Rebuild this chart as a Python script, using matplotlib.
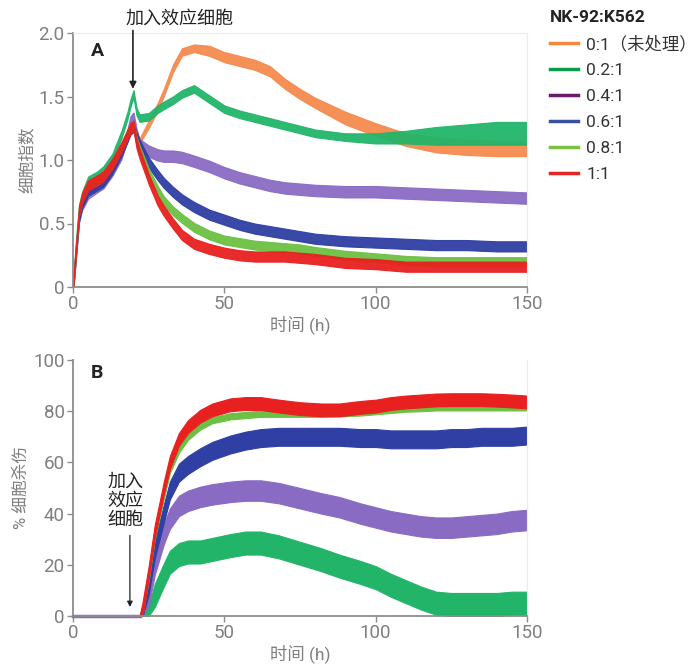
import numpy as np
import matplotlib.pyplot as plt
from matplotlib.lines import Line2D

plt.rcParams['font.family'] = ['Roboto', 'Noto Sans CJK SC', 'DejaVu Sans']

labels = ["0:1（未处理）", "0.2:1", "0.4:1", "0.6:1", "0.8:1", "1:1"]
legend_colors = ["#f7883b", "#0a9c4b", "#6a1b6a", "#3a4fa0", "#7dc142", "#e32626"]
band_colors = ["#f58a4d", "#22b56a", "#8a6bc4", "#2f3fa3", "#6cc043", "#e8201f"]

# Panel A: cell index
tA = [0, 1, 2, 3, 5, 8, 10, 13, 16, 18, 19, 20, 21, 22, 25, 28, 30, 33, 36, 40, 45, 50,
      55, 60, 65, 70, 75, 80, 90, 100, 110, 120, 130, 140, 150]
a_untreated = [0, 0.3, 0.58, 0.68, 0.78, 0.82, 0.85, 0.95, 1.08, 1.2, 1.27, 1.3, 1.18, 1.15,
               1.28, 1.42, 1.53, 1.72, 1.85, 1.88, 1.86, 1.81, 1.78, 1.75, 1.70, 1.60, 1.52,
               1.45, 1.33, 1.24, 1.16, 1.12, 1.10, 1.09, 1.09]
a_02 = [0, 0.35, 0.62, 0.72, 0.84, 0.88, 0.92, 1.02, 1.2, 1.35, 1.45, 1.52, 1.38, 1.33,
        1.34, 1.40, 1.43, 1.47, 1.52, 1.56, 1.48, 1.40, 1.36, 1.33, 1.30, 1.27, 1.24,
        1.21, 1.18, 1.17, 1.18, 1.19, 1.20, 1.21, 1.21]
a_04 = [0, 0.28, 0.55, 0.65, 0.74, 0.79, 0.82, 0.92, 1.05, 1.2, 1.3, 1.33, 1.2, 1.12,
        1.07, 1.04, 1.03, 1.03, 1.02, 0.99, 0.95, 0.90, 0.86, 0.83, 0.80, 0.78, 0.77,
        0.76, 0.75, 0.75, 0.74, 0.73, 0.72, 0.71, 0.70]
a_06 = [0, 0.28, 0.56, 0.66, 0.76, 0.8, 0.83, 0.93, 1.07, 1.18, 1.24, 1.26, 1.18, 1.12,
        0.98, 0.88, 0.82, 0.75, 0.69, 0.63, 0.57, 0.53, 0.49, 0.46, 0.44, 0.42, 0.40,
        0.38, 0.36, 0.35, 0.34, 0.33, 0.33, 0.32, 0.32]
a_08 = [0, 0.3, 0.6, 0.7, 0.8, 0.84, 0.87, 0.97, 1.1, 1.2, 1.25, 1.27, 1.15, 1.08,
        0.9, 0.76, 0.68, 0.6, 0.54, 0.47, 0.41, 0.37, 0.35, 0.33, 0.32, 0.31, 0.30,
        0.28, 0.25, 0.23, 0.21, 0.20, 0.20, 0.20, 0.20]
a_10 = [0, 0.3, 0.6, 0.7, 0.8, 0.84, 0.87, 0.97, 1.1, 1.2, 1.25, 1.27, 1.13, 1.05,
        0.85, 0.68, 0.6, 0.5, 0.41, 0.34, 0.30, 0.27, 0.25, 0.24, 0.24, 0.24, 0.23,
        0.22, 0.19, 0.18, 0.16, 0.16, 0.16, 0.16, 0.16]
# half band widths (SD)
a_sd_untreated = [0.02] * 14 + [0.03] * 6 + [0.04] * 8 + [0.05, 0.05, 0.05, 0.06, 0.06, 0.06, 0.06]
a_sd_02 = [0.03] * 28 + [0.03, 0.04, 0.05, 0.07, 0.08, 0.09, 0.09]
a_sd = [0.045, 0.04, 0.035, 0.04, 0.03]

# Panel B: % cytolysis
tB = [0, 20, 22, 23, 25, 27, 30, 32, 35, 38, 42, 46, 52, 57, 62, 68, 75, 82, 88, 95, 100,
      105, 110, 115, 120, 125, 130, 135, 140, 145, 150]
b_02 = [0, 0, 0, 0, 2, 8, 16, 21, 24, 25, 25, 26, 27.5, 28.5, 28.5, 27, 24.5, 22, 19.5,
        17, 15, 12, 9.5, 7, 5, 4.5, 4.5, 4.5, 4.5, 5, 5]
b_04 = [0, 0, 0, 1, 8, 20, 32, 38, 43, 45, 46.5, 47.5, 48.5, 49, 49, 48, 46, 44, 42.5,
        40, 38.5, 37, 36, 35, 34.5, 34.5, 35, 35.5, 36, 37, 37.5]
b_06 = [0, 0, 0, 2, 12, 26, 40, 49, 56, 59, 62, 64.5, 67, 68.5, 69.5, 70, 70, 70, 70,
        69.5, 69.5, 69, 69, 69, 69, 69.5, 69.5, 70, 70, 70, 70.5]
b_08 = [0, 0, 0, 2, 15, 31, 47, 57, 65, 70, 74, 76.5, 78, 78.5, 79, 79, 79, 79, 79.2,
        79.5, 80, 80.5, 81, 81.2, 81.5, 81.5, 81.5, 81.5, 81.5, 81.5, 81.5]
b_10 = [0, 0, 0, 3, 17, 33, 50, 60, 69, 74, 78, 80.5, 82.5, 83, 83, 82, 81, 80.5, 80.5,
        81.5, 82, 83, 83.6, 84, 84.4, 84.5, 84.5, 84.5, 84.3, 84, 83.6]
b_sd = [4.5, 4.0, 3.5, 1.2, 2.5]

W, H = 697, 665
fig = plt.figure(figsize=(W / 100, H / 100), dpi=100)
axA = fig.add_axes([73 / W, 1 - 287 / H, 454 / W, 254 / H])
axB = fig.add_axes([73 / W, 1 - 616 / H, 454 / W, 256 / H])

tick_gray = "#7f7f7f"
dark = "#222222"


def style(ax):
    for s in ["left", "bottom"]:
        ax.spines[s].set_color("#8c8c8c")
        ax.spines[s].set_linewidth(1.3)
    for s in ["top", "right"]:
        ax.spines[s].set_color("#ececec")
        ax.spines[s].set_linewidth(0.8)
    ax.tick_params(colors="#8c8c8c", labelcolor=tick_gray, labelsize=13.5, length=4,
                   width=1, pad=2)
    ax.set_xlim(0, 150)
    ax.set_xticks([0, 50, 100, 150])
    ax.set_xlabel("时间 (h)", color=tick_gray, fontsize=12.5, labelpad=1)


# Panel A
seriesA = [a_untreated, a_02, a_04, a_06, a_08, a_10]
sdA = [a_sd_untreated, a_sd_02] + [[s] * len(tA) for s in a_sd]
for vals, sd, c in zip(seriesA, sdA, band_colors):
    v = np.array(vals)
    s = np.array(sd)
    axA.fill_between(tA, v - s, v + s, color=c, lw=0.8, edgecolor=c, alpha=0.95)
style(axA)
axA.set_ylim(0, 2.0)
axA.set_yticks([0, 0.5, 1.0, 1.5, 2.0])
axA.set_yticklabels(["0", "0.5", "1.0", "1.5", "2.0"])
axA.set_ylabel("细胞指数", color=tick_gray, fontsize=12, labelpad=3)
axA.text(0.04, 0.965, "A", transform=axA.transAxes, fontsize=14, fontweight="bold",
         color=dark, va="top")
axA.text(17.2, 2.04, "加入效应细胞", ha="left", va="bottom", fontsize=13, color=dark,
         clip_on=False)
axA.annotate("", xy=(19.8, 1.56), xytext=(19.8, 2.02), annotation_clip=False,
             arrowprops=dict(arrowstyle="-|>", color=dark, lw=1.2,
                             mutation_scale=10, shrinkA=0, shrinkB=0))

# Panel B
seriesB = [b_02, b_04, b_06, b_08, b_10]
for vals, sd, c in zip(seriesB, b_sd, band_colors[1:]):
    v = np.array(vals)
    half = np.minimum(sd, v)
    axB.fill_between(tB, v - half, v + half, color=c, lw=0.8, edgecolor=c)
axB.plot(tB[:3], b_04[:3], color=band_colors[2], lw=2.5, clip_on=False)
style(axB)
axB.spines["top"].set_visible(False)
axB.set_ylim(0, 100)
axB.set_yticks([0, 20, 40, 60, 80, 100])
axB.set_ylabel("% 细胞杀伤", color=tick_gray, fontsize=12, labelpad=3)
axB.text(0.04, 0.985, "B", transform=axB.transAxes, fontsize=14, fontweight="bold",
         color=dark, va="top")
axB.text(17.4, 45, "加入\n效应\n细胞", ha="center", va="center", fontsize=13,
         color=dark, linespacing=1.05)
axB.annotate("", xy=(18.8, 3.5), xytext=(18.8, 31.5),
             arrowprops=dict(arrowstyle="-|>", color=dark, lw=0.9,
                             mutation_scale=8, shrinkA=0, shrinkB=0))

handles = [Line2D([0], [0], color=c, lw=2.5) for c in legend_colors]
leg = fig.legend(handles, labels, loc="upper left", bbox_to_anchor=(543 / W, 1 - 3 / H),
                 frameon=False, title="NK-92:K562", fontsize=12.5, handlelength=1.6,
                 handletextpad=0.5, labelspacing=0.62, borderaxespad=0)
leg.get_title().set_fontweight("bold")
leg.get_title().set_fontsize(12.5)
leg.get_title().set_color(dark)
leg._legend_box.align = "left"
for t in leg.get_texts():
    t.set_color("#333333")

fig.savefig("out.png", dpi=100)
